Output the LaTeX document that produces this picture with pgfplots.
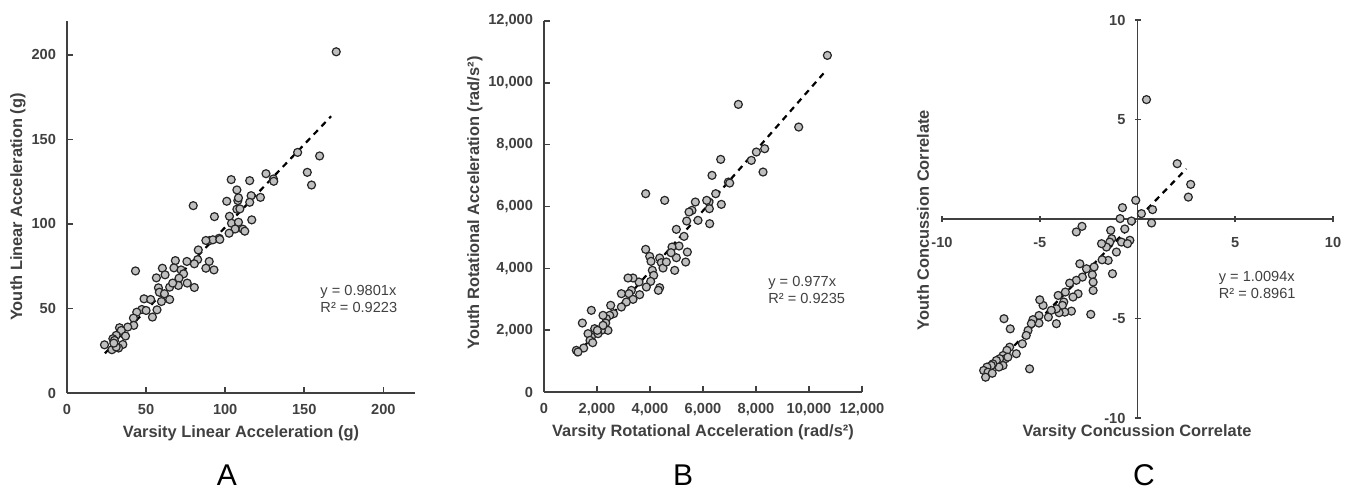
\documentclass[border=0pt]{standalone}
\usepackage{pgfplots}
\pgfplotsset{compat=1.18}
\usepackage{fontspec}
\setmainfont{Liberation Sans}
\definecolor{axgray}{HTML}{404040}
\definecolor{ptfill}{HTML}{BFBFBF}
\pgfplotstableread{
x y
170.2 201.8
145.8 142.3
159.7 140.2
151.9 130.5
154.6 123.0
125.8 129.7
130.5 126.6
130.7 125.2
122.3 115.7
115.5 125.6
116.4 116.7
115.5 112.8
116.8 102.4
103.8 126.2
107.4 120.1
108.0 113.8
107.4 108.7
101.0 113.4
102.7 104.5
104.0 100.4
108.4 101.0
106.3 97.0
111.2 96.9
112.4 95.7
102.5 94.5
109.3 108.9
108.4 115.4
79.8 110.8
93.2 104.3
96.2 91.5
90.3 90.2
92.2 90.6
83.0 84.6
82.6 78.9
80.5 76.4
89.9 77.8
87.8 73.8
92.9 72.8
75.8 77.8
68.5 78.3
67.6 74.0
72.1 72.8
73.7 70.5
70.8 67.9
70.4 63.6
76.0 65.0
80.5 62.4
60.3 73.8
62.0 69.9
56.5 68.1
43.3 72.2
57.8 62.2
58.4 59.6
64.9 62.6
64.9 55.3
59.7 54.1
61.6 58.7
66.8 65.0
48.7 55.7
52.9 55.3
56.9 49.2
54.0 44.9
47.3 49.4
44.1 47.8
50.0 48.8
42.0 44.3
42.2 40.0
38.4 39.0
33.2 38.6
34.3 37.0
31.1 34.1
37.0 33.7
29.0 32.1
30.0 31.1
35.3 28.7
32.6 26.6
23.7 28.5
28.4 25.6
31.1 27.2
29.6 29.5
96.6 90.8
87.8 90.2
}\dataA
\pgfplotstableread{
x y
10693 10888
9611 8570
7334 9303
8328 7869
8013 7762
7824 7492
8265 7115
6957 6791
7007 6759
6668 7524
6340 7007
6692 6069
6479 6414
6227 6145
6139 6199
6240 5929
6252 5444
5711 6145
5812 5552
5585 5875
5472 5821
5384 5530
5284 5034
4994 5261
5095 4722
5409 4527
5346 4204
4994 4344
4932 3935
4831 4689
4793 4506
4554 6199
3837 6414
3837 4614
3988 4387
4038 4226
4365 4334
4428 4183
4491 4010
4617 4204
4088 3935
4139 3773
4026 3579
3862 3396
4365 3374
4315 3288
3585 3557
3610 3148
3359 3687
3170 3687
3296 3288
3208 3180
3359 2997
3107 2911
2919 3180
2919 2749
2516 2803
2629 2533
2478 2479
2353 2372
2227 2479
2328 2231
2415 1994
2164 1994
2038 1887
1912 2048
1786 1779
1661 1887
1786 2641
1447 2231
1736 1671
1837 1595
1497 1423
1220 1348
1283 1294
2227 2156
2013 1994
}\dataB
\pgfplotstableread{
x y
0.46 6.0
2.03 2.78
2.72 1.74
2.60 1.10
0.77 0.47
0.72 -0.20
0.20 0.27
-0.09 0.94
-0.77 0.57
-0.89 0.02
-0.31 -0.10
-0.65 -0.50
-0.39 -1.07
-0.82 -1.16
-0.51 -1.24
-1.32 -0.99
-1.42 -1.16
-1.59 -1.41
-1.08 -1.66
-1.50 -2.08
-1.81 -2.05
-1.28 -2.75
-2.84 -0.37
-3.13 -0.65
-2.22 -2.41
-2.61 -2.50
-2.31 -2.80
-2.27 -3.17
-2.27 -3.59
-2.95 -2.25
-2.82 -2.92
-3.13 -3.08
-3.47 -3.22
-3.04 -3.76
-3.30 -3.92
-3.69 -3.67
-3.77 -4.17
-4.06 -3.84
-3.84 -4.34
-3.38 -4.63
-3.72 -4.68
-4.01 -4.71
-4.15 -4.51
-4.41 -4.59
-4.15 -5.26
-4.56 -4.93
-4.83 -4.34
-5.00 -4.06
-5.04 -4.85
-5.04 -5.23
-5.35 -5.06
-5.43 -5.26
-5.60 -5.60
-5.69 -5.85
-5.89 -6.27
-6.20 -6.77
-6.51 -5.52
-6.83 -5.01
-6.54 -6.44
-6.68 -6.60
-6.88 -6.86
-6.75 -7.02
-7.05 -7.02
-7.22 -7.11
-6.88 -7.36
-7.09 -7.44
-7.40 -7.28
-7.48 -7.36
-5.52 -7.53
-7.70 -7.44
-7.87 -7.61
-7.65 -7.70
-7.77 -7.95
-7.43 -7.75
-6.63 -6.94
-2.39 -4.79
-1.84 -1.24
-1.37 -0.57
}\dataC
\pgfplotsset{
  every axis/.append style={
    scale only axis,
    axis line style={axgray, line width=0.8pt},
    every tick/.style={axgray, line width=0.8pt},
    major tick length=3pt,
    tick label style={font=\fontsize{7.3}{8}\selectfont\bfseries, text=axgray},
    scaled ticks=false,
    clip=false,
  },
  pts/.style={only marks, mark=*, mark size=2pt,
    mark options={fill=ptfill, draw=black!85, line width=0.6pt}},
  trend/.style={black, line width=1.1pt, dash pattern=on 3pt off 2.6pt},
}
\newcommand{\eqfont}{\fontsize{7.3}{8}\selectfont\color{axgray}}
\newcommand{\labfont}{\fontsize{8.2}{9}\selectfont\bfseries\color{axgray}}
\begin{document}
\begin{tikzpicture}
\path[use as bounding box] (0,0) rectangle (675pt,244.5pt);
% Panel A
\begin{axis}[at={(33.5pt,48pt)}, anchor=south west,
  width=174pt, height=186pt,
  xmin=0, xmax=220, ymin=0, ymax=220,
  axis x line=bottom, axis y line=left,
  axis line style={-},
  tick align=inside,
  xtick={0,50,100,150,200}, xticklabels={0,50,100,150,200},
  ytick={0,50,100,150,200}, yticklabels={0,50,100,150,200},
  xticklabel style={yshift=-2pt}, yticklabel style={xshift=-2pt},
]
\addplot[pts] table {\dataA};
\addplot[trend] coordinates {(24,23.5) (167,163.7)};
\node[anchor=west, inner sep=0pt] at (axis cs:160,59.5) {\eqfont y = 0.9801x};
\node[anchor=west, inner sep=0pt] at (axis cs:160,50.5) {\eqfont R² = 0.9223};
\end{axis}
% Panel B
\begin{axis}[at={(272pt,48.5pt)}, anchor=south west,
  width=159pt, height=185.5pt,
  xmin=0, xmax=12000, ymin=0, ymax=12000,
  axis x line=bottom, axis y line=left,
  axis line style={-},
  tick align=inside,
  xtick={0,2000,4000,6000,8000,10000,12000},
  xticklabels={0,{2,000},{4,000},{6,000},{8,000},{10,000},{12,000}},
  ytick={0,2000,4000,6000,8000,10000,12000},
  yticklabels={0,{2,000},{4,000},{6,000},{8,000},{10,000},{12,000}},
  xticklabel style={yshift=-2pt}, yticklabel style={xshift=-2pt},
]
\addplot[pts] table {\dataB};
\addplot[trend] coordinates {(1200,1172) (10600,10356)};
\node[anchor=west, inner sep=0pt] at (axis cs:8450,3526) {\eqfont y = 0.977x};
\node[anchor=west, inner sep=0pt] at (axis cs:8450,3040) {\eqfont R² = 0.9235};
\end{axis}
% Panel C
\begin{axis}[at={(471pt,35.5pt)}, anchor=south west,
  width=195.5pt, height=199pt,
  xmin=-10, xmax=10, ymin=-10, ymax=10,
  axis lines=middle,
  axis line style={-},
  tick align=center,
  xtick={-10,-5,0,5,10}, xticklabels={-10,-5,0,5,10},
  ytick={-10,-5,5,10}, yticklabels={-10,-5,5,10},
  xticklabel style={yshift=-4pt}, yticklabel style={xshift=-1pt},
]
\addplot[pts] table {\dataC};
\addplot[trend] coordinates {(-7.9,-7.974) (2.5,2.524)};
\node[anchor=west, inner sep=0pt] at (axis cs:4.14,-2.96) {\eqfont y = 1.0094x};
\node[anchor=west, inner sep=0pt] at (axis cs:4.14,-3.72) {\eqfont R² = 0.8961};
\end{axis}
% axis titles
\node at (120.5pt,28pt) {\labfont Varsity Linear Acceleration (g)};
\node[rotate=90] at (9pt,141pt) {\labfont Youth Linear Acceleration (g)};
\node at (351.5pt,28.5pt) {\labfont Varsity Rotational Acceleration (rad/s²)};
\node[rotate=90] at (237.5pt,143pt) {\labfont Youth Rotational Acceleration (rad/s²)};
\node at (568.5pt,28.5pt) {\labfont Varsity Concussion Correlate};
\node[rotate=90] at (461.5pt,134.5pt) {\labfont Youth Concussion Correlate};
% panel letters
\node[anchor=base, inner sep=0pt] at (113.5pt,2pt) {\fontsize{15}{16}\selectfont A};
\node[anchor=base, inner sep=0pt] at (341.5pt,2pt) {\fontsize{15}{16}\selectfont B};
\node[anchor=base, inner sep=0pt] at (572pt,2pt) {\fontsize{15}{16}\selectfont C};
\end{tikzpicture}
\end{document}
